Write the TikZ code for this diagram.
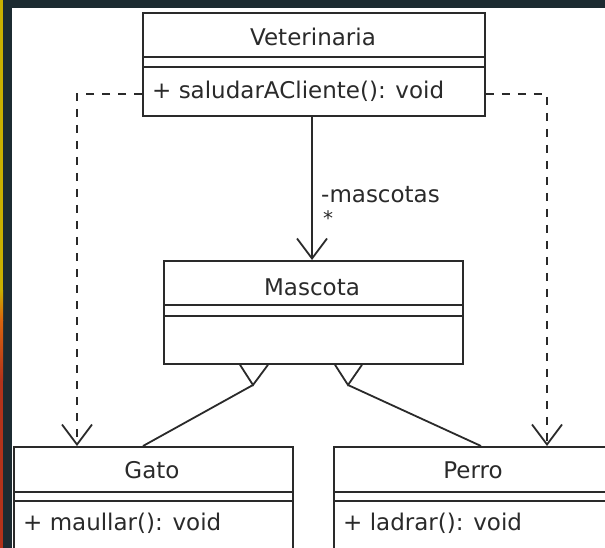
\documentclass[tikz,border=0pt]{standalone}
\usepackage{fontspec}
\setmainfont{DejaVu Sans}
\usetikzlibrary{arrows.meta}
\definecolor{frame}{HTML}{1C2B31}
\definecolor{ink}{HTML}{2A2A2A}
\definecolor{stripyellow}{HTML}{C9B000}
\definecolor{striporange}{HTML}{D9650F}
\definecolor{stripred}{HTML}{B2331B}
\tikzset{
  classbox/.style={draw=ink, line width=1.8pt, fill=white, anchor=north west, inner sep=0pt},
  sepline/.style={draw=ink, line width=1.8pt},
  title/.style={text=ink, inner sep=0pt, font=\fontsize{23}{28}\selectfont},
  member/.style={text=ink, inner sep=0pt, anchor=west, font=\fontsize{23}{28}\selectfont},
  dep/.style={draw=ink, line width=1.8pt, dash pattern=on 8pt off 8pt,
    -{Straight Barb[length=20pt, width=30pt, line width=1.8pt]}},
  assoc/.style={draw=ink, line width=1.8pt,
    -{Straight Barb[length=20pt, width=30pt, line width=1.8pt]}},
  gen/.style={draw=ink, line width=1.8pt, line join=miter},
}
\begin{document}
\begin{tikzpicture}[x=1pt, y=-1pt]
  \useasboundingbox (0,0) rectangle (605,548);
  \clip (0,0) rectangle (605,548);
  \fill[white] (0,0) rectangle (605,548);
  % window frame
  \fill[frame] (0,0) rectangle (605,8);
  \fill[frame] (0,0) rectangle (12,548);
  \fill[stripyellow] (0,0) rectangle (3,290);
  \shade[top color=stripyellow, bottom color=striporange] (0,290) rectangle (3,320);
  \shade[top color=striporange, bottom color=stripred] (0,320) rectangle (3,380);
  \fill[stripred] (0,380) rectangle (3,548);

  % Veterinaria
  \node[classbox, minimum width=342pt, minimum height=103pt] (vet) at (142,12) {};
  \node[title] (vetname) at (313,37) {Veterinaria};
  \draw[sepline] (vet.west |- 0,57) -- (vet.east |- 0,57);
  \draw[sepline] (vet.west |- 0,67) -- (vet.east |- 0,67);
  \node[member] (vetop) at (152,91) {+ saludarACliente(): void};

  % Mascota
  \node[classbox, minimum width=299pt, minimum height=103pt] (mascota) at (163,260) {};
  \node[title] (mascotaname) at (312,287) {Mascota};
  \draw[sepline] (mascota.west |- 0,305) -- (mascota.east |- 0,305);
  \draw[sepline] (mascota.west |- 0,316) -- (mascota.east |- 0,316);

  % Gato
  \node[classbox, minimum width=279pt, minimum height=130pt] (gato) at (13,446) {};
  \node[title] (gatoname) at (152,470) {Gato};
  \draw[sepline] (gato.west |- 0,492) -- (gato.east |- 0,492);
  \draw[sepline] (gato.west |- 0,501) -- (gato.east |- 0,501);
  \node[member] (gatoop) at (23,523) {+ maullar(): void};

  % Perro
  \node[classbox, minimum width=280pt, minimum height=130pt] (perro) at (333,446) {};
  \node[title] (perroname) at (473,470) {Perro};
  \draw[sepline] (perro.west |- 0,492) -- (perro.east |- 0,492);
  \draw[sepline] (perro.west |- 0,501) -- (perro.east |- 0,501);
  \node[member] (perroop) at (343,523) {+ ladrar(): void};

  % association Veterinaria -> Mascota
  \draw[assoc] (vet.south -| 312,0) -- (mascota.north -| 312,0);
  \node[title, anchor=west] (role) at (321,195) {-mascotas};
  \node[title, font=\fontsize{20}{24}\selectfont] (mult) at (328,218) {*};

  % dependencies
  \coordinate (dl) at (77,94);
  \coordinate (dr) at (547,94);
  \draw[dep] (vet.west |- dl) -- (dl) -- (gato.north -| dl);
  \draw[dep] (vet.east |- dr) -- (dr) -- (perro.north -| dr);

  % generalizations
  \coordinate (tipg) at (253,385);
  \coordinate (tipp) at (348,385);
  \draw[gen] (mascota.south -| 240,0) -- (tipg) -- (mascota.south -| 268,0);
  \draw[gen] (mascota.south -| 335,0) -- (tipp) -- (mascota.south -| 362,0);
  \draw[gen] (tipg) -- (gato.north -| 143,0);
  \draw[gen] (tipp) -- (perro.north -| 481,0);
\end{tikzpicture}
\end{document}
